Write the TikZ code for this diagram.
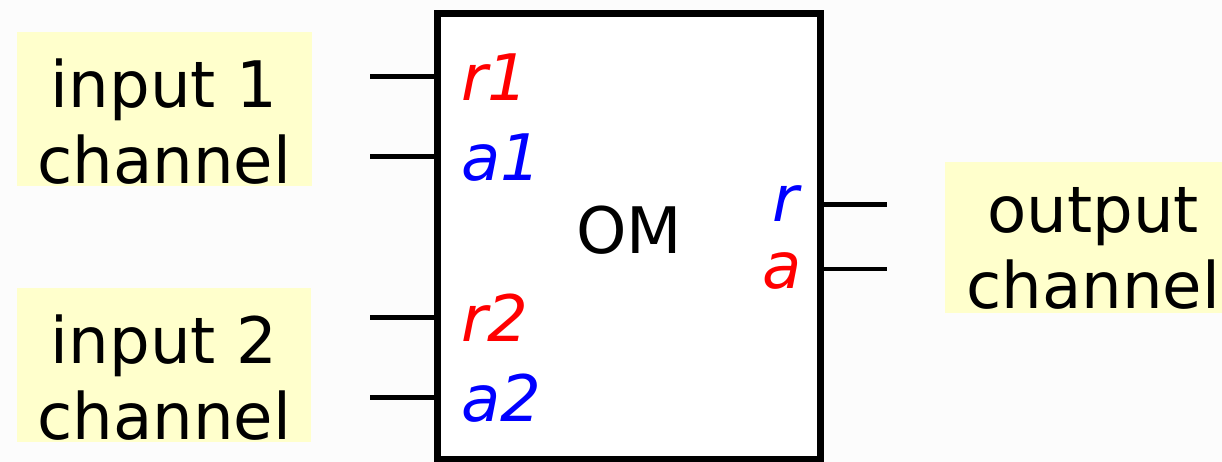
\documentclass[tikz,border=0pt]{standalone}
\usepackage{fontspec}
\setmainfont{DejaVu Sans}
\definecolor{chanyellow}{RGB}{255, 255, 204}
\definecolor{bggray}{RGB}{252, 252, 252}
\definecolor{reqred}{RGB}{255, 0, 0}
\definecolor{ackblue}{RGB}{0, 0, 255}
\usetikzlibrary{positioning}
\tikzset{
	chan/.style={rectangle, fill=chanyellow, inner sep=0pt, minimum width=5.9cm, minimum height=3.08cm},
	chantext/.style={align=center, inner sep=0pt, font=\fontsize{36.5}{43.3}\selectfont},
	module/.style={rectangle, draw=black, fill=white, line width=0.14cm, minimum width=7.68cm, minimum height=8.94cm, inner sep=0pt, text depth=0.29cm, font=\fontsize{36.5}{43.3}\selectfont},
	portlabel/.style={inner sep=0pt, font=\fontsize{36.5}{43.3}\selectfont\itshape},
	wire/.style={line width=0.1cm, draw=black},
}

\begin{document}
\begin{tikzpicture}[x=0.02cm, y=-0.02cm]
		\fill[bggray] (0,0) rectangle (1222,462);
		\useasboundingbox (0,0) rectangle (1222,462);
		% channels
		\node[chan] (in1) at (164.5,109) {};
		\node[chan] (in2) at (164,365) {};
		\node[chan, minimum width=5.6cm, minimum height=3.02cm] (out) at (1085,237.5) {};
		\node[chantext] (in1txt) at (164,121.5) {input 1\\channel};
		\node[chantext] (in2txt) at (164,377.5) {input 2\\channel};
		\node[chantext] (outtxt) at (1093,248) {output\\channel};
		% module
		\node[module] (om) at (629,236.5) {OM};
		\node[portlabel, text=reqred, anchor=base west] (r1) at (461,101) {r1};
		\node[portlabel, text=ackblue, anchor=base west] (a1) at (461,181) {a1};
		\node[portlabel, text=reqred, anchor=base west] (r2) at (461,341) {r2};
		\node[portlabel, text=ackblue, anchor=base west] (a2) at (461,421) {a2};
		\node[portlabel, text=ackblue, anchor=base east] (r) at (799,222) {r};
		\node[portlabel, text=reqred, anchor=base east] (a) at (802,288) {a};
		% wires
		\coordinate (r1end) at (370,77);
		\coordinate (a1end) at (370,157);
		\coordinate (r2end) at (370,317);
		\coordinate (a2end) at (370,397);
		\coordinate (rend) at (887,205);
		\coordinate (aend) at (887,269);
		\draw[wire] (r1end) -- (om.west |- r1end);
		\draw[wire] (a1end) -- (om.west |- a1end);
		\draw[wire] (r2end) -- (om.west |- r2end);
		\draw[wire] (a2end) -- (om.west |- a2end);
		\draw[wire] (om.east |- rend) -- (rend);
		\draw[wire] (om.east |- aend) -- (aend);
	\end{tikzpicture}
\end{document}
